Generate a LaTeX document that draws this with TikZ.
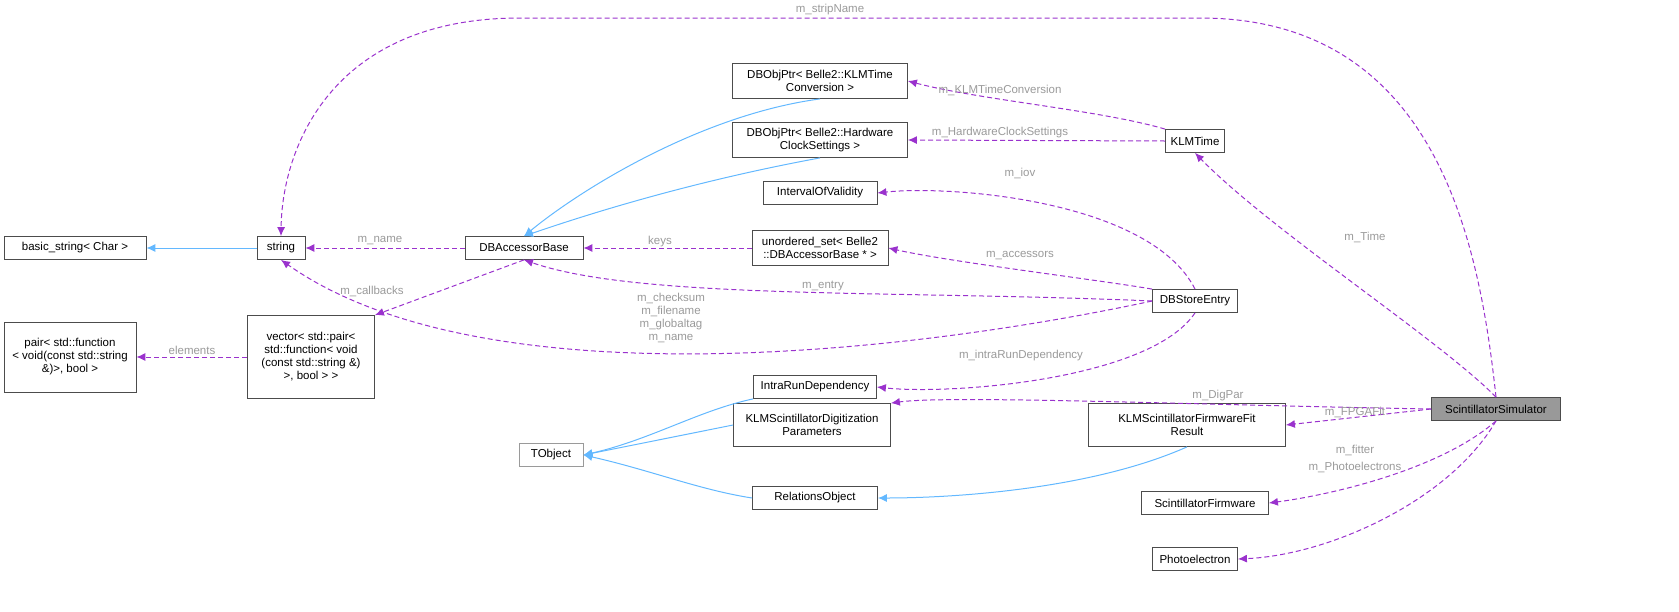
\documentclass[tikz,border=0pt]{standalone}
\usepackage{fontspec}
\setmainfont{Liberation Sans}
\usetikzlibrary{arrows.meta}
\definecolor{dpurple}{HTML}{9A32CD}
\definecolor{dblue}{HTML}{63B8FF}
\definecolor{lgray}{HTML}{9A9A9A}
\begin{document}
\begin{tikzpicture}[x=1pt,y=-1pt,
  every node/.style={font=\fontsize{11.5}{13}\selectfont},
  box/.style={draw=black!70,fill=white,align=center,inner sep=2pt,minimum height=23,line width=0.8pt},
  use/.style={draw=dpurple,dash pattern=on 5pt off 3pt,line width=1pt,-{Latex[length=9,width=8]}},
  inh/.style={draw=dblue,line width=1pt,-{Latex[length=9,width=8]}},
  lab/.style={text=lgray,align=center,inner sep=1pt}]
\useasboundingbox (0,0) rectangle (1679,611);
\node[box,fill=black!40,minimum width=129] (sim) at (1496,409) {ScintillatorSimulator};
\node[box,minimum width=59] (klm) at (1195,141) {KLMTime};
\node[box,minimum width=175,minimum height=35,inner sep=1pt] (conv) at (820,81) {DBObjPtr< Belle2::KLMTime\\Conversion >};
\node[box,minimum width=175,minimum height=35,inner sep=1pt] (hw) at (820,140) {DBObjPtr< Belle2::Hardware\\ClockSettings >};
\node[box,minimum width=114] (iov) at (820,193) {IntervalOfValidity};
\node[box,minimum width=136,minimum height=35,inner sep=1pt] (uset) at (820,248) {unordered\_set< Belle2\\::DBAccessorBase * >};
\node[box,minimum width=118] (acc) at (524,248) {DBAccessorBase};
\node[box,minimum width=48] (str) at (281,248) {string};
\node[box,minimum width=142] (bstr) at (75,248) {basic\_string< Char >};
\node[box,minimum width=85] (dbse) at (1195,301) {DBStoreEntry};
\node[box,minimum width=127,minimum height=83,inner sep=1pt] (vec) at (311,357) {vector< std::pair<\\ std::function< void\\(const std::string \&)\\>, bool > >};
\node[box,minimum width=132,minimum height=70,inner sep=1pt] (pair) at (70,357) {pair< std::function\\< void(const std::string\\\&)>, bool >};
\node[box,minimum width=123] (intra) at (815,387) {IntraRunDependency};
\node[box,draw=lgray,minimum width=64] (tobj) at (551,455) {TObject};
\node[box,minimum width=157,minimum height=43,inner sep=1pt] (dig) at (812,425) {KLMScintillatorDigitization\\Parameters};
\node[box,minimum width=125] (rel) at (815,498) {RelationsObject};
\node[box,minimum width=197,minimum height=43,inner sep=1pt] (fit) at (1187,425) {KLMScintillatorFirmwareFit\\Result};
\node[box,minimum width=127] (fw) at (1205,503) {ScintillatorFirmware};
\node[box,minimum width=85] (pe) at (1195,559) {Photoelectron};
% inheritance
\draw[inh] (str) -- (bstr);
\draw[inh] (conv.south) .. controls (700,115) and (580,190) .. (acc.north);
\draw[inh] (hw.south) .. controls (700,180) and (600,210) .. (acc.north);
\draw[inh] (intra.south west) .. controls (700,410) and (650,440) .. (tobj.east);
\draw[inh] (dig.west) -- (tobj.east);
\draw[inh] (rel.west) .. controls (700,490) and (650,470) .. (tobj.east);
\draw[inh] (fit.south) .. controls (1090,490) and (950,498) .. (rel.east);
% usage
\draw[use] (sim.north) .. controls (1480,250) and (1440,18) .. (1200,18) -- (520,18) .. controls (330,18) and (282,150) .. (str.north);
\node[lab] at (830,10) {m\_stripName};
\draw[use] (sim.north) .. controls (1440,340) and (1270,230) .. (klm.south);
\node[lab] at (1365,237) {m\_Time};
\draw[use] (klm.north west) .. controls (1100,110) and (980,100) .. (conv.east);
\node[lab] at (1000,90) {m\_KLMTimeConversion};
\draw[use] (klm.west) -- (hw.east);
\node[lab] at (1000,133) {m\_HardwareClockSettings};
\draw[use] (dbse.north) .. controls (1150,200) and (950,185) .. (iov.east);
\node[lab] at (1020,173) {m\_iov};
\draw[use] (dbse.north west) .. controls (1100,280) and (950,262) .. (uset.east);
\node[lab] at (1020,256) {m\_accessors};
\draw[use] (uset.west) -- (acc.east);
\node[lab] at (660,242) {keys};
\draw[use] (acc.west) -- (str.east);
\node[lab] at (380,241) {m\_name};
\draw[use] (dbse.west) .. controls (900,290) and (640,300) .. (acc.south);
\node[lab] at (823,286) {m\_entry};
\draw[use] (dbse.west) .. controls (900,355) and (480,400) .. (str.south);
\node[lab] at (671,318) {m\_checksum\\m\_filename\\m\_globaltag\\m\_name};
\draw[use] (acc.south) -- (vec.north east);
\node[lab] at (372,291) {m\_callbacks};
\draw[use] (vec.west) -- (pair.east);
\node[lab] at (192,350) {elements};
\draw[use] (dbse.south) .. controls (1150,380) and (950,395) .. (intra.east);
\node[lab] at (1021,356) {m\_intraRunDependency};
\draw[use] (sim.west) .. controls (1200,405) and (950,395) .. (dig.north east);
\node[lab] at (1218,396) {m\_DigPar};
\draw[use] (sim.west) -- (fit.east);
\node[lab] at (1355,412) {m\_FPGAFit};
\draw[use] (sim.south) .. controls (1440,470) and (1330,495) .. (fw.east);
\node[lab] at (1355,450) {m\_fitter};
\draw[use] (sim.south) .. controls (1450,500) and (1330,555) .. (pe.east);
\node[lab] at (1355,467) {m\_Photoelectrons};
\end{tikzpicture}
\end{document}
